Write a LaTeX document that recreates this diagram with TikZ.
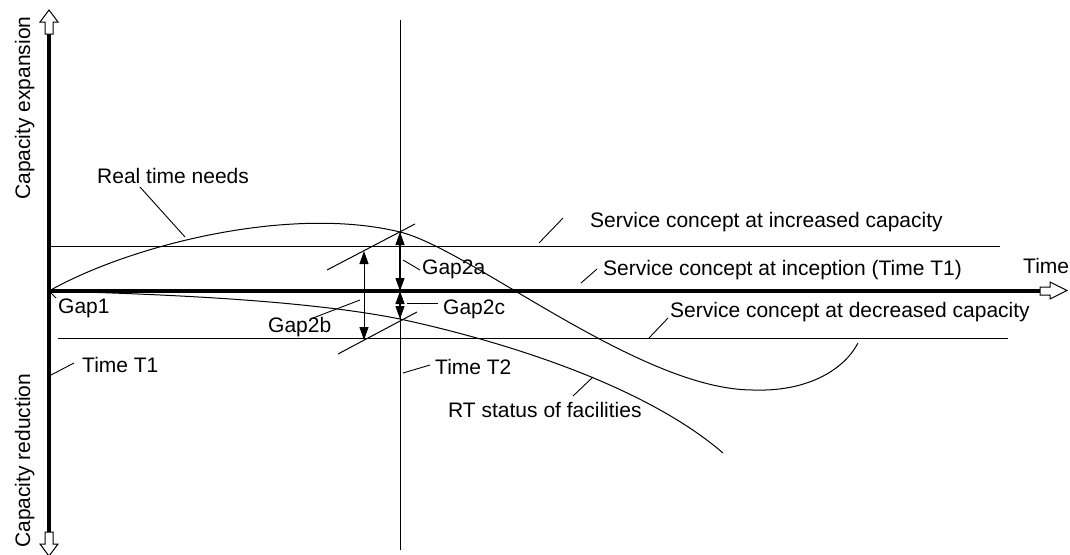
\documentclass[tikz,border=0pt]{standalone}
\usepackage{fontspec}
\setmainfont{Liberation Sans}
\usetikzlibrary{arrows.meta}
\begin{document}
\begin{tikzpicture}[x=1pt,y=-1pt,
  lbl/.style={inner sep=0pt, font=\fontsize{21}{25}\selectfont, anchor=base west},
  thinline/.style={line width=1pt},
  leader/.style={line width=0.9pt},
  axisline/.style={line width=4pt},
  hollowhead/.style={draw=black, fill=white, line width=1pt, line join=miter},
  curve/.style={line width=1pt},
  gaparrow/.style={line width=1.3pt, {Triangle[length=13pt,width=9pt]}-{Triangle[length=13pt,width=9pt]}},
]
\useasboundingbox (0,0) rectangle (1070,554);

% key coordinates
\coordinate (O) at (49,291);
\coordinate (Vtop) at (49,34);
\coordinate (Vbot) at (49,532);
\coordinate (Hend) at (1040,291);
\coordinate (T2top) at (400,20);
\coordinate (T2bot) at (400,550);
\coordinate (IncL) at (49,246);
\coordinate (IncR) at (1000,246);
\coordinate (DecL) at (58,338);
\coordinate (DecR) at (1008,338);
\coordinate (RTN) at (400,232);
\coordinate (RTS) at (400,319);
\coordinate (AX) at (400,291);
\coordinate (GbT) at (364,251);
\coordinate (GbB) at (364,340);
\coordinate (Trough) at (753,390);
\coordinate (RTNend) at (858,343);
\coordinate (RTSend) at (723,453);

% service concept lines
\draw[thinline] (IncL) -- (IncR);
\draw[thinline] (DecL) -- (DecR);
% time T2
\draw[thinline] (T2top) -- (T2bot);

% real time needs curve
\draw[curve] (O) .. controls (130,245) and (290,205) .. (RTN)
  .. controls (470,249) and (640,390) .. (Trough)
  .. controls (810,392) and (845,368) .. (RTNend);
% RT status of facilities curve
\draw[curve] (O) .. controls (200,295) and (320,303) .. (RTS)
  .. controls (520,345) and (650,390) .. (RTSend);

% axes
\draw[axisline] (Vtop) -- (Vbot);
\draw[axisline] (O) -- (Hend);
\draw[hollowhead] (45,34) -- (45,22) -- (40,22) -- (49,10) -- (58,22) -- (53,22) -- (53,34) -- cycle;
\draw[hollowhead] (45,532) -- (45,544) -- (40,544) -- (49,556) -- (58,544) -- (53,544) -- (53,532) -- cycle;
\draw[hollowhead] (1040,287) -- (1050,287) -- (1050,282) -- (1067,290.5) -- (1050,299) -- (1050,295) -- (1040,295) -- cycle;

% tick lines
\coordinate (tu1) at (327,270); \coordinate (tu2) at (415,224);
\coordinate (tl1) at (338,354); \coordinate (tl2) at (417,312);
\draw[thinline] (tu1) -- (tu2);
\draw[thinline] (tl1) -- (tl2);

% gap arrows
\draw[gaparrow] (RTN) -- (AX);
\draw[gaparrow] (AX) -- (RTS);
\draw[gaparrow, line width=1pt] (GbT) -- (GbB);

% labels
\node[lbl] (ltime) at (1023,273) {Time};
\node[lbl] (lrtn) at (97,183) {Real time needs};
\node[lbl] (linc) at (590,227) {Service concept at increased capacity};
\node[lbl] (lincep) at (603,275) {Service concept at inception (Time T1)};
\node[lbl] (ldec) at (670,317) {Service concept at decreased capacity};
\node[lbl] (lg2a) at (422,274) {Gap2a};
\node[lbl] (lg2c) at (443,314) {Gap2c};
\node[lbl] (lg2b) at (268,332) {Gap2b};
\node[lbl] (lg1) at (58,313) {Gap1};
\node[lbl] (lt1) at (82,372) {Time T1};
\node[lbl] (lt2) at (435,374) {Time T2};
\node[lbl] (lrts) at (448,417) {RT status of facilities};
\node[lbl, rotate=90] (lexp) at (30,200) {Capacity expansion};
\node[lbl, rotate=90] (lred) at (30,548) {Capacity reduction};

% leaders
\coordinate (a1) at (140,187); \coordinate (a2) at (185,237);
\draw[leader] (a1) -- (a2);
\coordinate (b1) at (563,218); \coordinate (b2) at (539,243);
\draw[leader] (b1) -- (b2);
\coordinate (c1) at (597,269); \coordinate (c2) at (581,283);
\draw[leader] (c1) -- (c2);
\coordinate (d1) at (668,318); \coordinate (d2) at (649,338);
\draw[leader] (d1) -- (d2);
\coordinate (e1) at (403,260); \coordinate (e2) at (420,270);
\draw[leader] (e1) -- (e2);
\coordinate (f1) at (407,303); \coordinate (f2) at (438,303);
\draw[leader] (f1) -- (f2);
\coordinate (g1) at (313,318); \coordinate (g2) at (360,300);
\draw[leader] (g1) -- (g2);
\coordinate (h1) at (403,373); \coordinate (h2) at (430,365);
\draw[leader] (h1) -- (h2);
\coordinate (i1) at (573,396); \coordinate (i2) at (593,377);
\draw[leader] (i1) -- (i2);
\coordinate (j1) at (51,375); \coordinate (j2) at (74,363);
\draw[leader] (j1) -- (j2);
\coordinate (k1) at (51,293); \coordinate (k2) at (56,298);
\draw[leader] (k1) -- (k2);
\end{tikzpicture}
\end{document}
